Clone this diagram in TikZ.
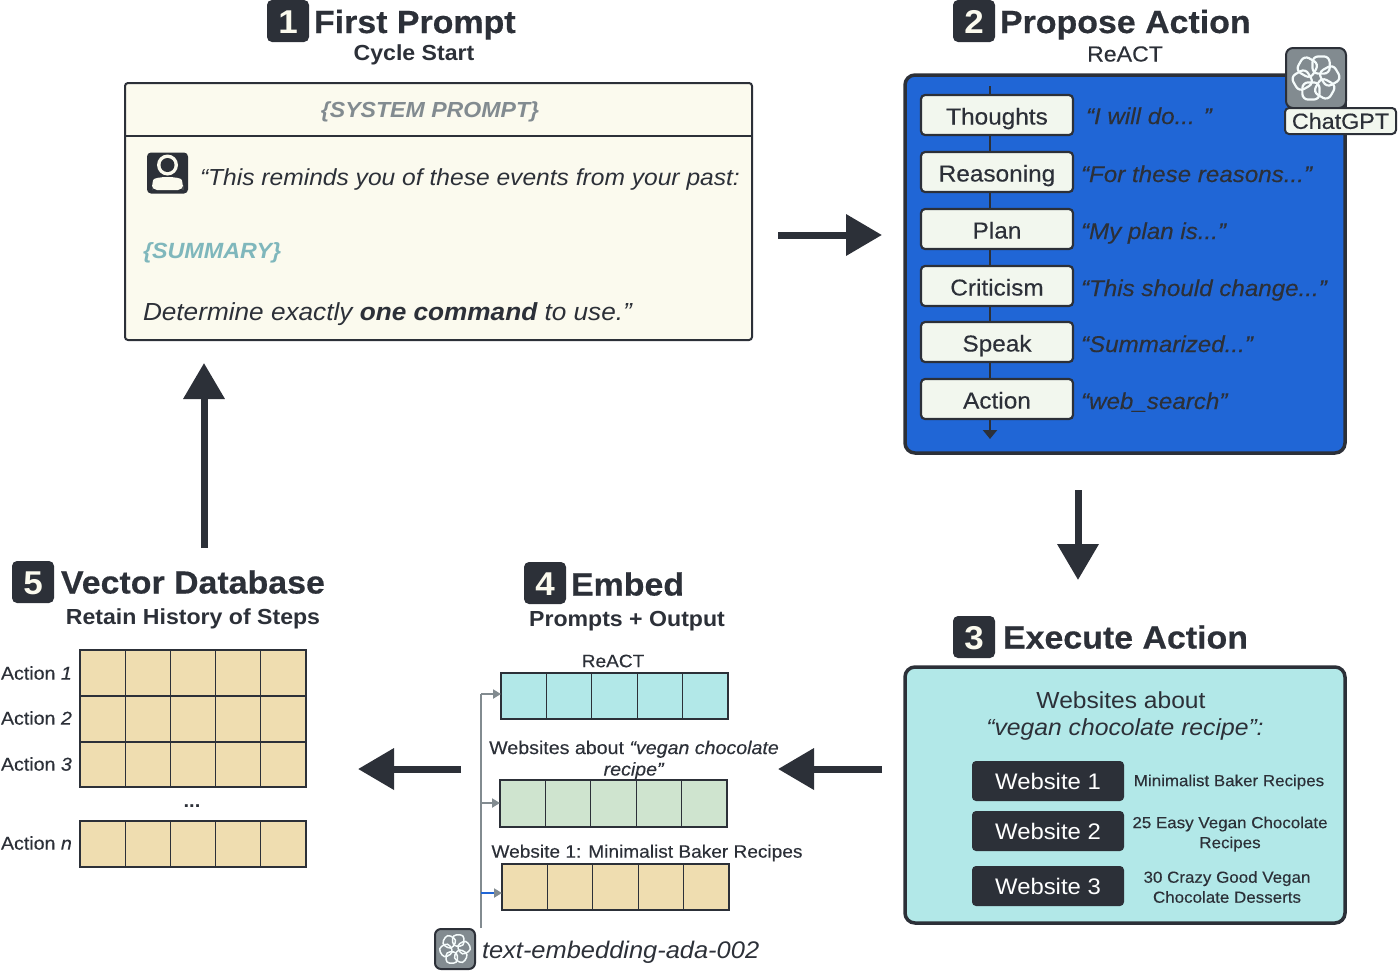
\documentclass[tikz,border=0pt]{standalone}
\usepackage{fontspec}
\setmainfont[FakeStretch=1.06]{Liberation Sans}
\newfontfamily\med[FakeStretch=1.06,FakeBold=0.3]{Liberation Sans}
\newfontfamily\hvy[FakeStretch=1.06,FakeBold=0.5]{Liberation Sans}
\usetikzlibrary{arrows.meta}
\definecolor{ink}{HTML}{2C3038}
\definecolor{cream}{HTML}{FBFAEE}
\definecolor{royal}{HTML}{2066D6}
\definecolor{aqua}{HTML}{B2E8E8}
\definecolor{tan}{HTML}{EFDDB0}
\definecolor{mixfill}{HTML}{CFE4CF}
\definecolor{btn}{HTML}{F2F7EE}
\definecolor{slate}{HTML}{828B90}
\definecolor{sumteal}{HTML}{7FB7BC}
\newcommand{\fs}[1]{\fontsize{#1}{#1}\selectfont}
\tikzset{
  x=1pt,y=-1pt,
  every node/.style={inner sep=0pt,outer sep=0pt,text=ink},
  badge/.style={fill=ink,rounded corners=5pt,minimum width=42pt,minimum height=42pt,text=cream,font=\fs{33}\bfseries,text height=24pt,text depth=0pt},
  title/.style={anchor=west,font=\hvy\fs{32}\bfseries,text height=24pt,text depth=7pt},
  subtitle/.style={font=\fs{21.8}\bfseries,text height=16pt,text depth=5pt},
  bigarrow/.style={draw=ink,line width=7pt,-{Triangle[length=36pt,width=40pt]}},
  lightbtn/.style={draw=ink,fill=btn,line width=2.2pt,rounded corners=4pt,minimum width=152pt,minimum height=40pt,font=\med\fs{23},text height=19pt,text depth=0pt},
  darkbtn/.style={fill=ink,rounded corners=4pt,minimum width=152pt,minimum height=40pt,text=white,font=\fs{22.5},text height=17pt,text depth=0pt},
  quote/.style={anchor=west,font=\med\fs{22.8}\itshape,text height=17pt,text depth=5pt},
  sitelabel/.style={font=\med\fs{16},align=center},
  rowlabel/.style={anchor=west,font=\med\fs{18.5}},
  celltitle/.style={font=\med\fs{18}},
  cellbox/.style={draw=ink,line width=1.2pt},
  feed/.style={draw=slate,line width=2pt,-{Triangle[length=8pt,width=9pt]}},
  logo/.pic={
    \foreach \a in {0,60,...,300}{
      \draw[white!85!aqua,line width=#1,rotate=\a,rounded corners=2.6*#1]
        (-0.16,-0.20) rectangle (0.62,-0.98);
    }
  },
  logo/.default=1.6pt
}
\begin{document}
\begin{tikzpicture}
\useasboundingbox (0,0) rectangle (1400,970);
% --- 1 First Prompt
\node[badge] (b1) at (288,21) {1};
\node[title] (t1) at (314,24.5) {First Prompt};
\node[subtitle] (s1) at (414,55.4) {Cycle Start};
\draw[ink,line width=2pt,fill=cream,rounded corners=3pt] (125,83) rectangle (752,340);
\coordinate (divl) at (125,136);
\coordinate (divr) at (752,136);
\draw[ink,line width=2pt] (divl) -- (divr);
\node[font=\fs{21.8}\bfseries\itshape,text=slate] (sysp) at (430,112) {\{SYSTEM PROMPT\}};
\node[fill=ink,rounded corners=4pt,minimum width=41pt,minimum height=41pt] (person) at (167.5,173) {};
\fill[cream] (167.5,165) circle (10.5);
\fill[ink] (167.5,165) circle (7);
\fill[cream,rounded corners=5pt] (152,190) -- (152,185) .. controls (154,176) and (181,176) .. (183,185) -- (183,190) -- cycle;
\node[anchor=west,font=\fs{23.2}\itshape] (p1) at (200,179) {“This reminds you of these events from your past:};
\node[anchor=west,font=\fs{22}\bfseries\itshape,text=sumteal] (p2) at (143,253) {\{SUMMARY\}};
\node[anchor=west,font=\fs{24.7}\itshape] (p3) at (143,314) {Determine exactly \textbf{one command} to use.”};
% --- 2 Propose Action
\node[badge] (b2) at (974,21) {2};
\node[title] (t2) at (1000,24.5) {Propose Action};
\node[font=\med\fs{21.8},text height=16pt,text depth=5pt] (s2) at (1125,56) {ReACT};
\draw[ink,line width=3.5pt,fill=royal,rounded corners=10pt] (905,75) rectangle (1345,453);
\coordinate (flowtop) at (990,86);
\coordinate (flowend) at (990,439);
\node[lightbtn] (n1) at (997,115) {Thoughts};
\node[lightbtn] (n2) at (997,172) {Reasoning};
\node[lightbtn] (n3) at (997,229) {Plan};
\node[lightbtn] (n4) at (997,286) {Criticism};
\node[lightbtn] (n5) at (997,342) {Speak};
\node[lightbtn] (n6) at (997,399) {Action};
\draw[ink,line width=2.5pt] (flowtop) -- (flowtop |- n1.north);
\foreach \u/\v in {n1/n2,n2/n3,n3/n4,n4/n5,n5/n6}{
  \draw[ink,line width=2.5pt] (flowtop |- \u.south) -- (flowtop |- \v.north);
}
\draw[ink,line width=2.5pt,-{Triangle[length=9pt,width=14pt]}] (flowtop |- n6.south) -- (flowend);
\node[quote] (q1) at (1086,118) {“I will do... ”};
\node[quote] (q2) at (1081,176) {“For these reasons...”};
\node[quote] (q3) at (1081,233) {“My plan is...”};
\node[quote] (q4) at (1081,290) {“This should change...”};
\node[quote] (q5) at (1081,346) {“Summarized...”};
\node[quote] (q6) at (1081,403) {“web\_search”};
\node[fill=slate,draw=ink,line width=2pt,rounded corners=7pt,minimum width=60pt,minimum height=60pt] (gpt) at (1316,78) {};
\pic at (gpt.center) [scale=22] {logo=2.2pt};
\node[draw=ink,fill=btn,line width=2pt,rounded corners=4pt,minimum width=111pt,minimum height=26pt,font=\med\fs{22}] (gptl) at (1340.5,121) {ChatGPT};
% --- 3 Execute Action
\node[badge] (b3) at (974,637) {3};
\node[title] (t3) at (1003,640) {Execute Action};
\draw[ink,line width=3.5pt,fill=aqua,rounded corners=10pt] (905,667) rectangle (1345,923);
\node[font=\fs{23.2}] (w1) at (1121,700) {Websites about};
\node[font=\fs{23.3}\itshape] (w2) at (1125,729) {“vegan chocolate recipe”:};
\node[darkbtn] (d1) at (1048,781) {Website 1};
\node[darkbtn] (d2) at (1048,831) {Website 2};
\node[darkbtn] (d3) at (1048,886) {Website 3};
\node[sitelabel] (l1) at (1229,782) {Minimalist Baker Recipes};
\node[sitelabel] (l2) at (1230,834) {25 Easy Vegan Chocolate\\[4pt]Recipes};
\node[sitelabel] (l3) at (1227,887) {30 Crazy Good Vegan\\[4pt]Chocolate Desserts};
% --- 4 Embed
\node[badge] (b4) at (545,583) {4};
\node[title] (t4) at (571,587) {Embed};
\node[subtitle] (s4) at (627,621) {Prompts + Output};
\node[celltitle] (c1) at (613,661) {ReACT};
\node[celltitle,font=\med\fs{18.5},align=center] (c2) at (634,760) {Websites about \textit{“vegan chocolate}\\[3pt]\textit{recipe”}};
\node[celltitle] (c3) at (647,853) {Website 1: Minimalist Baker Recipes};
\foreach \i in {0,1,2,3,4}{
  \node[cellbox,fill=aqua,anchor=north west,minimum width=45.4pt,minimum height=46pt] (ra\i) at ({501+\i*45.4},673) {};
  \node[cellbox,fill=mixfill,anchor=north west,minimum width=45.4pt,minimum height=47pt] (rb\i) at ({500+\i*45.4},780) {};
  \node[cellbox,fill=tan,anchor=north west,minimum width=45.4pt,minimum height=46pt] (rc\i) at ({502+\i*45.4},864) {};
}
\coordinate (trunkb) at (481,928);
\coordinate (trunkt) at (481,694);
\draw[slate,line width=2pt] (trunkb) -- (trunkt);
\coordinate (fa) at (481,694);
\coordinate (fb) at (481,803);
\coordinate (fc) at (481,893);
\draw[feed] (fa) -- (ra0.west |- fa);
\draw[feed] (fb) -- (rb0.west |- fb);
\draw[feed,draw=royal,-{Triangle[length=8pt,width=9pt,color=slate]}] (fc) -- (rc0.west |- fc);
\node[fill=slate,draw=ink,line width=2pt,rounded corners=6pt,minimum width=40pt,minimum height=40pt] (ada) at (455,949) {};
\pic at (ada.center) [scale=14.5] {logo=1.5pt};
\node[anchor=west,font=\fs{24}\itshape] (adat) at (482,952) {text-embedding-ada-002};
% --- 5 Vector Database
\node[badge] (b5) at (33,582) {5};
\node[title] (t5) at (61,585) {Vector Database};
\node[subtitle] (s5) at (193,619) {Retain History of Steps};
\foreach \i in {0,1,2,3,4}{
  \node[cellbox,fill=tan,anchor=north west,minimum width=45.2pt,minimum height=46pt] (va\i) at ({80+\i*45.2},650) {};
  \node[cellbox,fill=tan,anchor=north west,minimum width=45.2pt,minimum height=46pt] (vb\i) at ({80+\i*45.2},696) {};
  \node[cellbox,fill=tan,anchor=north west,minimum width=45.2pt,minimum height=45pt] (vc\i) at ({80+\i*45.2},742) {};
  \node[cellbox,fill=tan,anchor=north west,minimum width=45.2pt,minimum height=46pt] (vd\i) at ({80+\i*45.2},821) {};
}
\node[rowlabel] (a1) at (1,673) {Action \textit{1}};
\node[rowlabel] (a2) at (1,718) {Action \textit{2}};
\node[rowlabel] (a3) at (1,764) {Action \textit{3}};
\node[font=\fs{19}\bfseries] (dots) at (192,806) {...};
\node[rowlabel] (a4) at (1,843) {Action \textit{n}};
% --- big arrows
\coordinate (a1s) at (778,235); \coordinate (a1e) at (882,235);
\coordinate (a2s) at (1078,490); \coordinate (a2e) at (1078,580);
\coordinate (a3s) at (882,769); \coordinate (a3e) at (778,769);
\coordinate (a4s) at (461,769); \coordinate (a4e) at (358,769);
\coordinate (a5s) at (204,548); \coordinate (a5e) at (204,363);
\draw[bigarrow] (a1s) -- (a1e);
\draw[bigarrow] (a2s) -- (a2e);
\draw[bigarrow] (a3s) -- (a3e);
\draw[bigarrow] (a4s) -- (a4e);
\draw[bigarrow] (a5s) -- (a5e);
\end{tikzpicture}
\end{document}
